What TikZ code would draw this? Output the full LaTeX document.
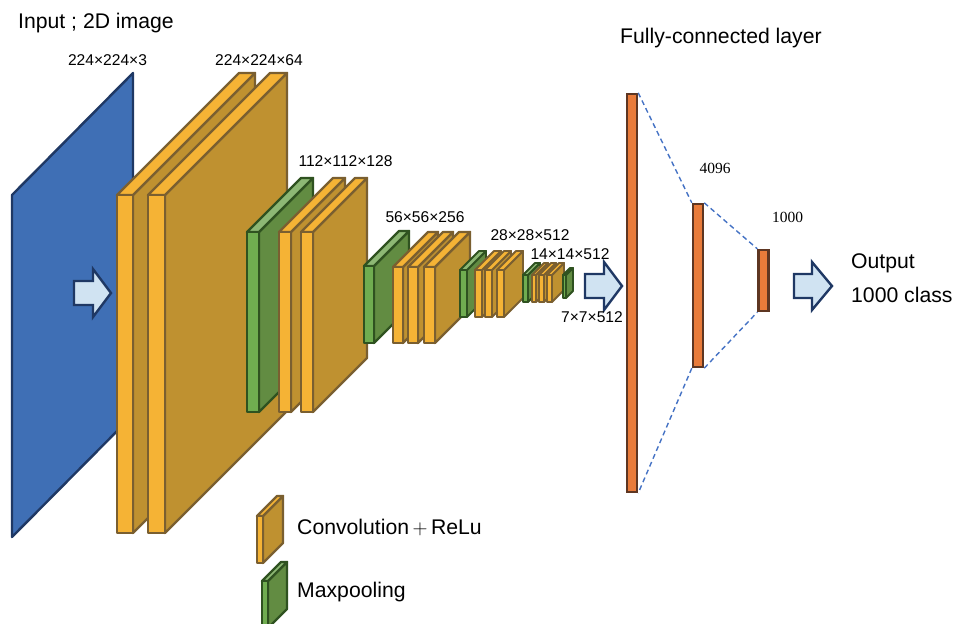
\documentclass[tikz,border=0pt]{standalone}
\usepackage{fontspec}
\setmainfont{Liberation Sans}
\newfontfamily\numfont{Liberation Serif}
\definecolor{InputClr}{HTML}{3F6FB5}
\definecolor{InputEdge}{HTML}{1F3864}
\definecolor{ConvFront}{HTML}{F5B335}
\definecolor{ConvSide}{HTML}{BF9130}
\definecolor{ConvEdge}{HTML}{7A5F30}
\definecolor{PoolFront}{HTML}{70AD50}
\definecolor{PoolSide}{HTML}{628C42}
\definecolor{PoolTop}{HTML}{8DB874}
\definecolor{PoolEdge}{HTML}{2F5220}
\definecolor{DenseClr}{HTML}{E97B3A}
\definecolor{DenseEdge}{HTML}{5E3622}
\definecolor{ArrowClr}{HTML}{D0E3F2}
\definecolor{DashClr}{HTML}{4472C4}

\tikzset{
  convface/.style={draw=ConvEdge,line width=2.4pt,line join=round},
  poolface/.style={draw=PoolEdge,line width=2.4pt,line join=round},
  thinblocks/.style={convface/.append style={line width=1.9pt},poolface/.append style={line width=1.9pt}},
  denselayer/.style={draw=DenseEdge,fill=DenseClr,line width=2.4pt,inner sep=0pt,minimum width=10pt},
  flowarrow/.style={draw=InputEdge,fill=ArrowClr,line width=2.4pt,line join=miter},
  dashlink/.style={draw=DashClr,line width=1.4pt,dash pattern=on 5pt off 3.5pt},
  sizelabel/.style={font=\fontsize{15.6}{18}\selectfont,inner sep=0pt},
  bigtext/.style={font=\fontsize{21.2}{25}\selectfont,inner sep=0pt,anchor=west},
  numlabel/.style={font=\numfont\fontsize{15.5}{18}\selectfont,inner sep=0pt}
}

% #1 = x left, #2 = x right, #3 = y top, #4 = y bottom, #5 = depth
\newcommand{\convblock}[5]{
  \filldraw[convface,fill=ConvSide] (#2,#3) -- (#2+#5,#3-#5) -- (#2+#5,#4-#5) -- (#2,#4) -- cycle;
  \filldraw[convface,fill=ConvFront] (#1,#3) -- (#1+#5,#3-#5) -- (#2+#5,#3-#5) -- (#2,#3) -- cycle;
  \filldraw[convface,fill=ConvFront] (#1,#3) rectangle (#2,#4);
}
\newcommand{\poolblock}[5]{
  \filldraw[poolface,fill=PoolSide] (#2,#3) -- (#2+#5,#3-#5) -- (#2+#5,#4-#5) -- (#2,#4) -- cycle;
  \filldraw[poolface,fill=PoolTop] (#1,#3) -- (#1+#5,#3-#5) -- (#2+#5,#3-#5) -- (#2,#3) -- cycle;
  \filldraw[poolface,fill=PoolFront] (#1,#3) rectangle (#2,#4);
}
% #1 = x tail, #2 = x head base, #3 = x tip, #4 = y middle
\newcommand{\blockarrow}[4]{
  \filldraw[flowarrow] (#1,#4-12) -- (#2,#4-12) -- (#2,#4-24) -- (#3,#4) -- (#2,#4+24) -- (#2,#4+12) -- (#1,#4+12) -- cycle;
}

\begin{document}
\begin{tikzpicture}[x=1pt,y=-1pt]
\clip (0,0) rectangle (954,624);

% input image
\filldraw[draw=InputEdge,fill=InputClr,line width=2.4pt,line join=round]
  (12,195) -- (133,73) -- (133,415) -- (12,537) -- cycle;

% feature maps
\convblock{117}{133}{195}{533}{122}
\convblock{148}{165}{195}{533}{122}

\poolblock{247}{259}{232}{412}{54}
\convblock{279}{291}{232}{412}{54}
\convblock{301}{313}{232}{412}{54}

\poolblock{364}{374}{266}{343}{35}
\convblock{393}{403}{267}{343}{35}
\convblock{408}{418}{267}{343}{35}
\convblock{424}{435}{267}{343}{35}

\begin{scope}[thinblocks]
\poolblock{460}{467}{270}{317}{19}
\convblock{475}{482}{270}{317}{19}
\convblock{485}{492}{270}{317}{19}
\convblock{497}{504}{270}{317}{19}

\poolblock{523}{528}{275}{302}{12}
\convblock{532}{536}{275}{302}{12}
\convblock{539}{544}{275}{302}{12}
\convblock{547}{552}{275}{302}{12}

\poolblock{563}{566}{275}{298}{7}
\end{scope}

% fully connected part
\node[denselayer,minimum height=398pt] (fcA) at (632,293) {};
\node[denselayer,minimum height=163pt] (fcB) at (698,285.5) {};
\node[denselayer,minimum height=61pt] (fcC) at (763.5,280.5) {};

\draw[dashlink] (fcA.north east) -- (fcB.north west);
\draw[dashlink] (fcB.north east) -- (fcC.north west);
\draw[dashlink] (fcB.south east) -- (fcC.south west);
\draw[dashlink] (fcB.south west) -- (fcA.south east);

% arrows
\blockarrow{74}{93}{111}{293}
\blockarrow{585}{604}{622}{286}
\blockarrow{794}{812}{832}{286}

% legend
\convblock{257}{263}{516}{563}{20}
\poolblock{262}{268}{581}{628}{19}

% labels
\node[bigtext] (inputText) at (18,23) {Input ; 2D image};
\node[bigtext] (fcText) at (620,38) {Fully-connected layer};
\node[bigtext] (outputText) at (851,263) {Output};
\node[bigtext] (classText) at (851,295) {1000 class};
\node[bigtext] (convText) at (297,527) {Convolution$\,+\,$ReLu};
\node[bigtext] (poolText) at (297,592) {Maxpooling};

\node[sizelabel] (sizeA) at (107.5,60) {224×224×3};
\node[sizelabel] (sizeB) at (259,60) {224×224×64};
\node[sizelabel] (sizeC) at (345.5,161.5) {112×112×128};
\node[sizelabel] (sizeD) at (425,217.5) {56×56×256};
\node[sizelabel] (sizeE) at (530,235.5) {28×28×512};
\node[sizelabel] (sizeF) at (570,254.5) {14×14×512};
\node[sizelabel] (sizeG) at (592,317.5) {7×7×512};

\node[numlabel] (numB) at (715,168.5) {4096};
\node[numlabel] (numC) at (787.5,217.5) {1000};

\end{tikzpicture}
\end{document}
